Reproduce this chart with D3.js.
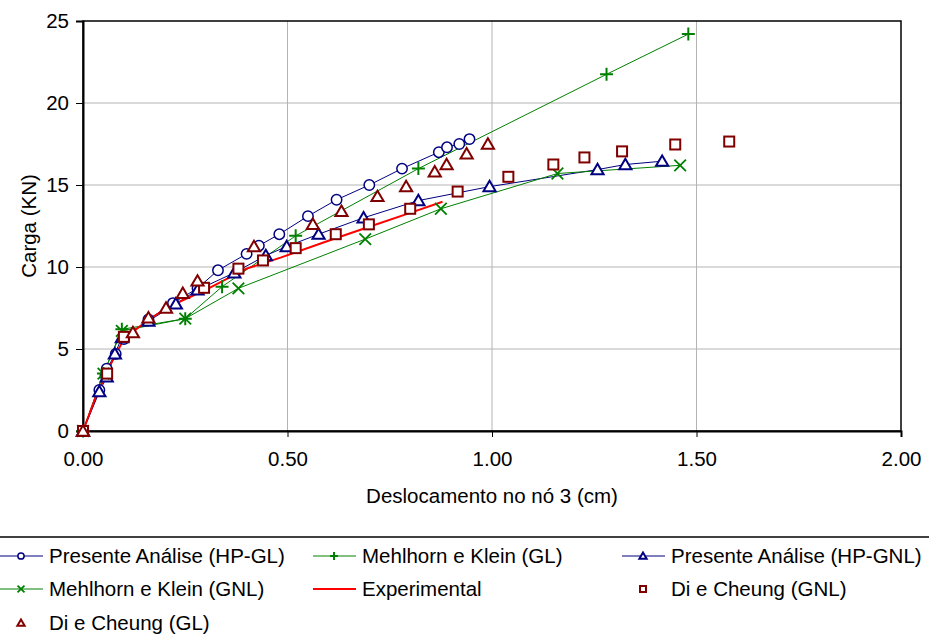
<!DOCTYPE html>
<html>
<head>
<meta charset="utf-8">
<script src="https://cdn.jsdelivr.net/npm/d3@7"></script>
<style>
body { margin: 0; background: #fff; }
svg text { font-family: "Liberation Sans", Arial, sans-serif; fill: #000; }
</style>
</head>
<body>
<div id="plot"></div>
<script>
// data (x: cm, y: kN)
var hpGL_x = [0, 0.04, 0.055, 0.058, 0.08, 0.1, 0.16, 0.22, 0.28, 0.33, 0.40, 0.43, 0.48, 0.55, 0.62, 0.70, 0.78, 0.87, 0.89, 0.92, 0.945]
var hpGL_y = [0, 2.5, 3.4, 3.8, 4.7, 5.6, 6.8, 7.8, 8.7, 9.8, 10.8, 11.3, 12.0, 13.1, 14.1, 15.0, 16.0, 17.0, 17.3, 17.5, 17.8]

var mkGL_x = [0, 0.05, 0.095, 0.25, 0.34, 0.52, 0.82, 1.28, 1.48]
var mkGL_y = [0, 3.5, 6.2, 6.85, 8.8, 11.9, 16.0, 21.75, 24.2]

var hpGNL_x = [0, 0.04, 0.058, 0.078, 0.095, 0.16, 0.227, 0.28, 0.37, 0.447, 0.498, 0.576, 0.686, 0.82, 0.994, 1.258, 1.326, 1.416]
var hpGNL_y = [0, 2.4, 3.3, 4.7, 5.7, 6.7, 7.75, 8.6, 9.65, 10.7, 11.25, 12.0, 13.0, 14.05, 14.9, 15.94, 16.25, 16.45]

var mkGNL_x = [0, 0.05, 0.095, 0.25, 0.38, 0.69, 0.875, 1.16, 1.46]
var mkGNL_y = [0, 3.5, 6.1, 6.85, 8.7, 11.7, 13.55, 15.7, 16.2]

var exp_x = [0, 0.03, 0.06, 0.1, 0.16, 0.22, 0.3, 0.4, 0.483, 0.6, 0.7, 0.8, 0.879]
var exp_y = [0, 2.0, 3.7, 5.6, 6.8, 7.7, 8.6, 9.9, 10.57, 11.6, 12.45, 13.3, 13.98]

var dcGNL_x = [0, 0.059, 0.1, 0.296, 0.38, 0.44, 0.52, 0.618, 0.699, 0.8, 0.916, 1.04, 1.15, 1.226, 1.318, 1.448, 1.58]
var dcGNL_y = [0, 3.5, 5.74, 8.73, 9.9, 10.4, 11.15, 12.0, 12.6, 13.55, 14.6, 15.5, 16.25, 16.68, 17.05, 17.47, 17.65]

var dcGL_x = [0, 0.122, 0.16, 0.203, 0.244, 0.28, 0.418, 0.562, 0.632, 0.72, 0.79, 0.86, 0.889, 0.938, 0.99]
var dcGL_y = [0, 6.0, 6.9, 7.5, 8.4, 9.15, 11.25, 12.6, 13.4, 14.3, 14.9, 15.8, 16.25, 16.9, 17.5]

var xTicks = [0, 0.5, 1.0, 1.5, 2.0]
var yTicks = [0, 5, 10, 15, 20, 25]

var names = ['Presente Análise (HP-GL)', 'Mehlhorn e Klein (GL)', 'Presente Análise (HP-GNL)',
	'Mehlhorn e Klein (GNL)', 'Experimental', 'Di e Cheung (GNL)', 'Di e Cheung (GL)']

function zip(xs, ys){
	var pts = []
	for (var i in xs){ pts.push([xs[i], ys[i]]) }
	return pts
}

var series = [
	{name: names[0], pts: zip(hpGL_x, hpGL_y), color: '#000080', line: 1, marker: 'circle', mcolor: '#000080'},
	{name: names[1], pts: zip(mkGL_x, mkGL_y), color: '#008000', line: 1, marker: 'plus', mcolor: '#008000'},
	{name: names[2], pts: zip(hpGNL_x, hpGNL_y), color: '#000080', line: 1, marker: 'triangle', mcolor: '#000080'},
	{name: names[3], pts: zip(mkGNL_x, mkGNL_y), color: '#008000', line: 1, marker: 'cross', mcolor: '#008000'},
	{name: names[4], pts: zip(exp_x, exp_y), color: '#ff0000', line: 2, marker: null},
	{name: names[5], pts: zip(dcGNL_x, dcGNL_y), color: null, line: 0, marker: 'square', mcolor: '#800000'},
	{name: names[6], pts: zip(dcGL_x, dcGL_y), color: null, line: 0, marker: 'triangle', mcolor: '#800000'}
]

var W = 929, H = 639
var mLeft = 83, mTop = 21, plotW = 818, plotH = 410
var fontSize = 20.5

var svg = d3.select('#plot').append('svg').attr('width', W).attr('height', H)

var x = d3.scaleLinear().domain([0, 2]).range([mLeft, mLeft + plotW])
var y = d3.scaleLinear().domain([0, 25]).range([mTop + plotH, mTop])

// grid
svg.append('g').selectAll('line').data(xTicks.slice(1, -1)).join('line')
	.attr('x1', d => x(d)).attr('x2', d => x(d)).attr('y1', y(0)).attr('y2', y(25))
	.attr('stroke', '#b4b4b4').attr('stroke-width', 1)
svg.append('g').selectAll('line').data(yTicks.slice(1, -1)).join('line')
	.attr('x1', x(0)).attr('x2', x(2)).attr('y1', d => y(d)).attr('y2', d => y(d))
	.attr('stroke', '#b4b4b4').attr('stroke-width', 1)

// frame
svg.append('rect').attr('x', mLeft).attr('y', mTop).attr('width', plotW).attr('height', plotH)
	.attr('fill', 'none').attr('stroke', '#000').attr('stroke-width', 1.5)

var xAxis = svg.append('g').attr('transform', 'translate(0,' + y(0) + ')')
	.call(d3.axisBottom(x).tickValues(xTicks).tickFormat(d3.format('.2f')).tickSize(6).tickPadding(14))
var yAxis = svg.append('g').attr('transform', 'translate(' + x(0) + ',0)')
	.call(d3.axisLeft(y).tickValues(yTicks).tickSize(7).tickPadding(7))
;[xAxis, yAxis].forEach(function(a){
	a.select('.domain').attr('stroke', '#000').attr('stroke-width', 2)
	a.selectAll('.tick line').attr('stroke', '#000')
	a.selectAll('text').attr('font-size', fontSize).attr('font-family', '"Liberation Sans", Arial, sans-serif')
})

svg.append('text').attr('x', mLeft + plotW / 2).attr('y', 503).attr('text-anchor', 'middle')
	.attr('font-size', fontSize).text('Deslocamento no nó 3 (cm)')
svg.append('text').attr('transform', 'translate(36,' + (mTop + plotH / 2) + ') rotate(-90)')
	.attr('text-anchor', 'middle').attr('font-size', fontSize).text('Carga (KN)')

function drawMarker(g, kind, color, size){
	if (kind == 'circle'){
		g.append('circle').attr('r', size * 0.52).attr('fill', '#fff').attr('stroke', color).attr('stroke-width', 1.5)
	} else if (kind == 'square'){
		g.append('rect').attr('x', -size / 2).attr('y', -size / 2).attr('width', size).attr('height', size)
			.attr('fill', '#fff').attr('stroke', color).attr('stroke-width', 2)
	} else if (kind == 'triangle'){
		var s = size * 0.58
		g.append('path').attr('d', 'M0,' + (-s) + 'L' + (s * 1.05) + ',' + (s * 0.8) + 'L' + (-s * 1.05) + ',' + (s * 0.8) + 'Z')
			.attr('fill', '#fff').attr('stroke', color).attr('stroke-width', 2)
	} else if (kind == 'plus'){
		var s = size * 0.65
		g.append('path').attr('d', 'M' + (-s) + ',0H' + s + 'M0,' + (-s) + 'V' + s)
			.attr('stroke', color).attr('stroke-width', 2).attr('fill', 'none')
	} else if (kind == 'cross'){
		var s = size * 0.58
		g.append('path').attr('d', 'M' + (-s) + ',' + (-s) + 'L' + s + ',' + s + 'M' + (-s) + ',' + s + 'L' + s + ',' + (-s))
			.attr('stroke', color).attr('stroke-width', 1.8).attr('fill', 'none')
	}
}

var line = d3.line().x(d => x(d[0])).y(d => y(d[1]))

// all lines first, then markers on top
series.forEach(function(s){
	if (s.line){
		svg.append('path').datum(s.pts).attr('d', line).attr('fill', 'none')
			.attr('stroke', s.color).attr('stroke-width', s.line)
	}
})
series.forEach(function(s){
	if (!s.marker) return
	svg.append('g').selectAll('g').data(s.pts).join('g')
		.attr('transform', d => 'translate(' + x(d[0]) + ',' + y(d[1]) + ')')
		.each(function(){ drawMarker(d3.select(this), s.marker, s.mcolor, 10) })
})

// legend
svg.append('line').attr('x1', 0).attr('x2', W).attr('y1', 537).attr('y2', 537)
	.attr('stroke', '#000').attr('stroke-width', 1.5)
var colX = [0, 313, 622]
var rowY = [556, 589, 623]
series.forEach(function(s, i){
	var cx = colX[i % 3], cy = rowY[Math.floor(i / 3)]
	var g = svg.append('g').attr('transform', 'translate(' + cx + ',' + cy + ')')
	if (s.line){
		g.append('line').attr('x1', 0).attr('x2', 43).attr('stroke', s.color).attr('stroke-width', s.line)
	}
	if (s.marker){
		var mg = g.append('g').attr('transform', 'translate(21,0)')
		drawMarker(mg, s.marker, s.mcolor, 6)
	}
	g.append('text').attr('x', 49).attr('dy', '0.35em').attr('font-size', fontSize).text(s.name)
})
</script>
</body>
</html>
